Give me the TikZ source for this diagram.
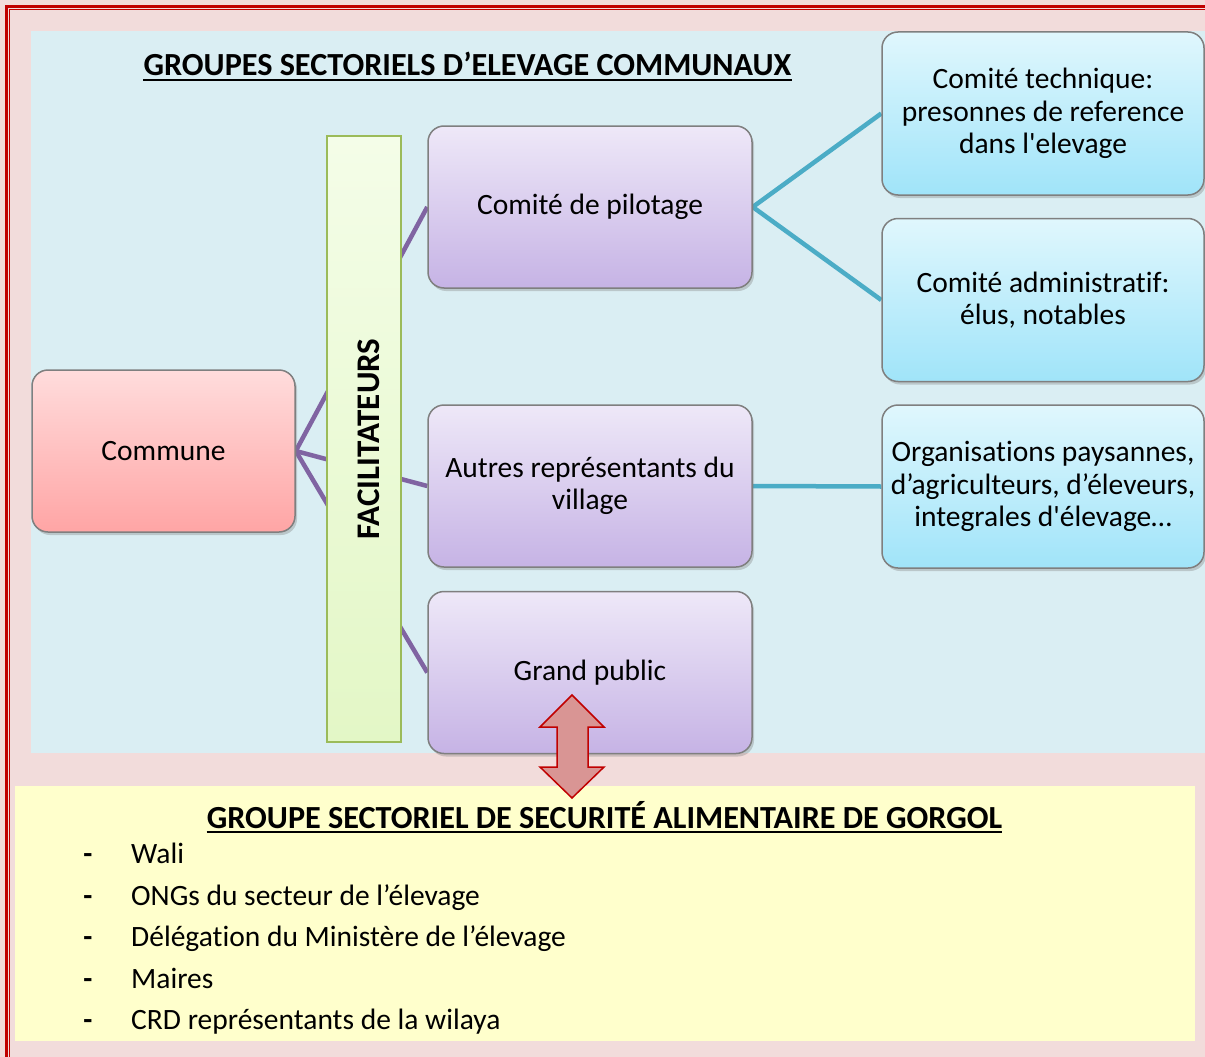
\documentclass[tikz,border=0pt]{standalone}
\usepackage{fontspec}
\setmainfont{Carlito}[Ligatures={NoCommon}]
\usetikzlibrary{shadows}
\pgfdeclarelayer{bottom}
\pgfdeclarelayer{links}
\pgfsetlayers{bottom,links,main}
\definecolor{pinkbg}{HTML}{F2DCDB}
\definecolor{bluebg}{HTML}{DAEEF3}
\definecolor{yellowbg}{HTML}{FFFFCC}
\definecolor{borderred}{HTML}{C00000}
\definecolor{purpleline}{HTML}{8064A2}
\definecolor{tealline}{HTML}{4BACC6}
\definecolor{greenedge}{HTML}{9BBB59}
\definecolor{boxedge}{HTML}{7F7F7F}
\definecolor{arrowfill}{HTML}{D99594}
\definecolor{purptop}{HTML}{EEE8F8}
\definecolor{purpbot}{HTML}{C6B3E5}
\definecolor{pinktop}{HTML}{FFDCDC}
\definecolor{pinkbot}{HTML}{FFA5A5}
\definecolor{cyantop}{HTML}{E0F7FD}
\definecolor{cyanbot}{HTML}{A0E4F9}
\definecolor{greentop}{HTML}{F4FDE8}
\definecolor{greenbot}{HTML}{E3F7C6}
\tikzset{
  bodyfont/.style={font=\fontsize{29.5}{32.5}\selectfont},
  roundbox/.style={draw=boxedge, line width=1.5pt, rounded corners=16pt, align=center, bodyfont,
     drop shadow={opacity=0.35, shadow xshift=2pt, shadow yshift=-3pt}},
  commbox/.style={roundbox, top color=pinktop, bottom color=pinkbot, minimum width=263pt, minimum height=162pt},
  purpbox/.style={roundbox, top color=purptop, bottom color=purpbot, minimum width=324pt, minimum height=162pt},
  cyanbox/.style={roundbox, top color=cyantop, bottom color=cyanbot, minimum width=322pt, minimum height=163pt},
  facbar/.style={draw=greenedge, line width=2pt, top color=greentop, bottom color=greenbot,
     minimum width=74pt, minimum height=606pt, inner sep=0pt},
  purpconn/.style={draw=purpleline, line width=4.5pt},
  tealconn/.style={draw=tealline, line width=4.5pt},
  titlefont/.style={font=\bfseries\fontsize{32.2}{36}\selectfont, inner sep=0pt, anchor=base},
  listitem/.style={bodyfont, inner sep=0pt, anchor=base west},
  dashitem/.style={font=\bfseries\fontsize{29.5}{32.5}\selectfont, inner sep=0pt, anchor=base}
}
\begin{document}
\begin{tikzpicture}[x=1pt,y=-1pt]
\useasboundingbox (0,0) rectangle (1205,1057);
\clip (0,0) rectangle (1205,1057);
\begin{pgfonlayer}{bottom}
\fill[pinkbg] (0,0) rectangle (1205,1057);
\draw[borderred, line width=3pt] (6.5,6.5) rectangle (1300,1200);
\draw[borderred, line width=1pt] (9.5,9.5) rectangle (1300,1200);
\fill[bluebg] (31,31) rectangle (1205,753);
\fill[yellowbg] (15,786) rectangle (1195,1041);
\end{pgfonlayer}

% nodes
\node[commbox] (commune) at (163.5,451) {Commune};
\node[purpbox] (pilot) at (590,207) {Comité de pilotage};
\node[purpbox] (autres) at (590,486) {Autres représentants du\\village};
\node[purpbox] (grand) at (590,672.5) {Grand public};
\node[cyanbox] (tech) at (1043,113.5) {Comité technique:\\presonnes de reference\\dans l\textquotesingle elevage};
\node[cyanbox] (admin) at (1043,300) {Comité administratif:\\élus, notables};
\node[cyanbox] (org) at (1043,486.5) {Organisations paysannes,\\d’agriculteurs, d’éleveurs,\\integrales d\textquotesingle élevage…};

% connectors (behind boxes and bar)
\begin{pgfonlayer}{links}
\path[purpconn] (commune.east) -- (pilot.west);
\path[purpconn] (commune.east) -- (autres.west);
\path[purpconn] (commune.east) -- (grand.west);
\path[tealconn] (pilot.east) -- (tech.west);
\path[tealconn] (pilot.east) -- (admin.west);
\path[tealconn] (autres.east) -- (org.west);
\end{pgfonlayer}

% facilitateurs bar
\node[facbar] (fac) at (364,439) {};
\node[font=\bfseries\fontsize{33}{36}\selectfont, rotate=90, inner sep=0pt] (factext) at ([xshift=5pt]fac.center) {FACILITATEURS};

% double arrow
\draw[borderred, fill=arrowfill, line width=1.5pt, line join=miter]
  (572,695) -- (604,727) -- (588,727) -- (588,767) -- (604,767) -- (572,798)
  -- (540,767) -- (557,767) -- (557,727) -- (540,727) -- cycle;

% titles
\node[titlefont] (title1) at (467.5,76) {GROUPES SECTORIELS D’ELEVAGE COMMUNAUX};
\draw[line width=2.5pt] ([yshift=-4pt]title1.base west) -- ([yshift=-4pt]title1.base east);
\node[titlefont] (title2) at (604.5,828) {GROUPE SECTORIEL DE SECURITÉ ALIMENTAIRE DE GORGOL};
\draw[line width=2.5pt] ([yshift=-4pt]title2.base west) -- ([yshift=-4pt]title2.base east);

% list
\node[dashitem] (d1) at (88,863) {-};
\node[listitem] (l1) at (131,863) {Wali};
\node[dashitem] (d2) at (88,905) {-};
\node[listitem] (l2) at (131,905) {ONGs du secteur de l’élevage};
\node[dashitem] (d3) at (88,946) {-};
\node[listitem] (l3) at (131,946) {Délégation du Ministère de l’élevage};
\node[dashitem] (d4) at (88,988) {-};
\node[listitem] (l4) at (131,988) {Maires};
\node[dashitem] (d5) at (88,1029) {-};
\node[listitem] (l5) at (131,1029) {CRD représentants de la wilaya};
\end{tikzpicture}
\end{document}
